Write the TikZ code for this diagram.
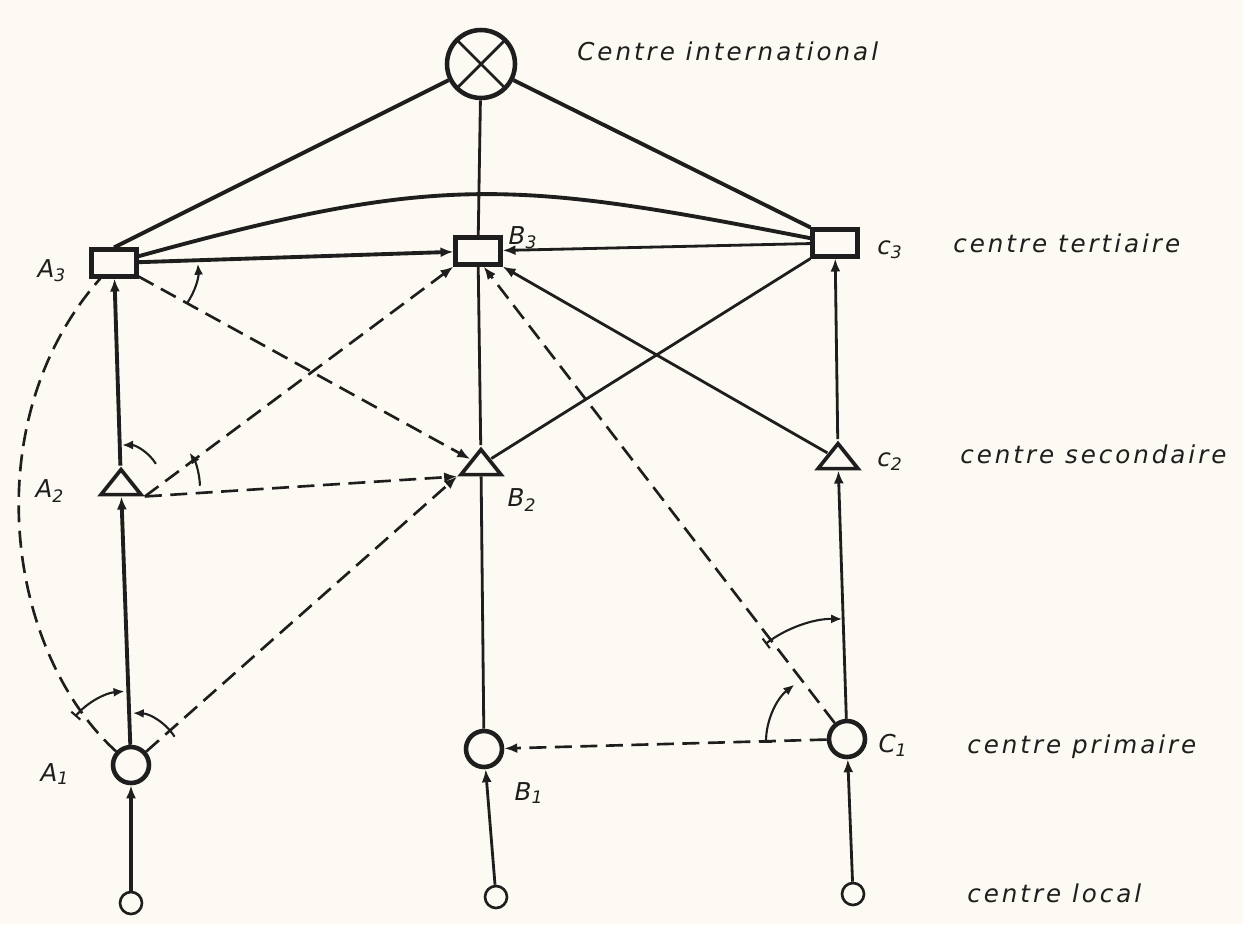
\documentclass[tikz,border=0pt]{standalone}
\usepackage{fontspec}
\usepackage{xcolor}
\usepackage{tikz}
\usetikzlibrary{arrows.meta,positioning,shapes.geometric}
\newfontfamily\hand[LetterSpace=12]{DejaVu Sans}
\definecolor{Ink}{HTML}{1E1E1E}
\definecolor{Paper}{HTML}{FCFAF2}

\begin{document}
\begin{tikzpicture}[
  x=0.02cm, y=-0.02cm,
  lbl/.style={font=\hand\itshape\fontsize{14}{16}\selectfont, text=Ink, inner sep=0pt},
  rectc/.style={draw=Ink, line width=2.3pt, fill=Paper, minimum width=9mm, minimum height=5.4mm, inner sep=0pt},
  tric/.style={draw=Ink, line width=2.1pt, fill=Paper, isosceles triangle, shape border rotate=90, isosceles triangle stretches, minimum width=8mm, minimum height=5mm, inner sep=0pt},
  circc/.style={draw=Ink, line width=2.6pt, fill=Paper, circle, minimum size=7.2mm, inner sep=0pt},
  locc/.style={draw=Ink, line width=1.5pt, fill=Paper, circle, minimum size=4.4mm, inner sep=0pt},
  link/.style={draw=Ink, line width=1.6pt},
  heavy/.style={draw=Ink, line width=2.2pt},
  dashlink/.style={draw=Ink, line width=1.5pt, dash pattern=on 3.4mm off 1.7mm},
  arrow/.style={-{Latex[length=2.6mm, width=2mm]}},
  angmark/.style={draw=Ink, line width=1.2pt, -{Latex[length=2.2mm, width=1.8mm]}},
  barmark/.style={draw=Ink, line width=1.2pt, {Bar[width=2.4mm]}-{Latex[length=2.2mm, width=1.8mm]}}
]
\useasboundingbox (0,0) rectangle (1243,924);
\fill[Paper] (0,0) rectangle (1243,924);

% centres
\node[circc, minimum size=13.6mm, path picture={
  \draw[draw=Ink, line width=1.6pt] (path picture bounding box.north west) -- (path picture bounding box.south east)
    (path picture bounding box.north east) -- (path picture bounding box.south west);}] (intl) at (481,64) {};
\node[rectc] (a3) at (114,263) {};
\node[rectc] (b3) at (478,251) {};
\node[rectc] (c3) at (835,243) {};
\node[tric] (a2) at (121,485) {};
\node[tric] (b2) at (481,465) {};
\node[tric] (c2) at (838,459) {};
\node[circc] (a1) at (131,765) {};
\node[circc] (b1) at (484,749) {};
\node[circc] (c1) at (847,739) {};
\node[locc] (la) at (131,903) {};
\node[locc] (lb) at (496,897) {};
\node[locc] (lc) at (853,894) {};

% labels
\node[lbl] (na3) at (52,271) {A\textsubscript{3}};
\node[lbl] (na2) at (50,491) {A\textsubscript{2}};
\node[lbl] (na1) at (55,774) {A\textsubscript{1}};
\node[lbl] (nb3) at (523,238) {B\textsubscript{3}};
\node[lbl] (nb2) at (522,500) {B\textsubscript{2}};
\node[lbl] (nb1) at (529,793) {B\textsubscript{1}};
\node[lbl] (nc3) at (890,250) {c\textsubscript{3}};
\node[lbl] (nc2) at (890,462) {c\textsubscript{2}};
\node[lbl] (nc1) at (893,745) {C\textsubscript{1}};
\node[lbl, anchor=base west] (tintl) at (577,60) {Centre international};
\node[lbl, anchor=base west] (tter) at (953,252) {centre tertiaire};
\node[lbl, anchor=base west] (tsec) at (960,463) {centre secondaire};
\node[lbl, anchor=base west] (tpri) at (967,753) {centre primaire};
\node[lbl, anchor=base west] (tloc) at (967,902) {centre local};

% vertical chains
\draw[heavy, arrow] (la) -- (a1);
\draw[heavy, arrow] (a1) -- (a2);
\draw[heavy, arrow] (a2) -- (a3);
\draw[link, arrow] (lb) -- (b1);
\draw[link] (b1) -- (b2);
\draw[link] (b2) -- (b3);
\draw[link, arrow] (lc) -- (c1);
\draw[link, arrow] (c1) -- (c2);
\draw[link, arrow] (c2) -- (c3);

% top level
\draw[heavy] (intl) -- (a3.north);
\draw[link] (intl) -- (b3);
\draw[heavy] (intl) -- (c3.north west);
\draw[heavy] (a3) .. controls (440,173) and (512,180) .. (c3);
\draw[heavy, arrow] (a3) -- (b3);
\draw[link, arrow] (c3) -- (b3);

% cross links
\draw[dashlink, arrow] (a3) -- (b2);
\draw[dashlink, arrow] (a2.right corner) -- (b3.south west);
\draw[dashlink, arrow] (a2.right corner) -- (b2.left corner);
\draw[dashlink, arrow] (a1) -- (b2.left corner);
\draw[dashlink] (a1) .. controls (5,650) and (-25,420) .. (a3);
\draw[dashlink, arrow] (c1) -- (b1);
\draw[dashlink, arrow] (c1) -- (b3.-70);
\draw[link, arrow] (c2) -- (b3.south east);
\draw[link] (b2) -- (c3.south west);

% angle marks
\draw[angmark] (136,268) ++(35:62) arc[start angle=35, end angle=-4, radius=62];
\draw[angmark] (122,485) ++(-32:40) arc[start angle=-32, end angle=-90, radius=40];
\draw[angmark] (135,488) ++(-2:65) arc[start angle=-2, end angle=-33, radius=65];
\draw[barmark] (131,765) ++(-139:74) arc[start angle=-139, end angle=-95, radius=74];
\draw[angmark] (131,765) ++(-33:52) arc[start angle=-33, end angle=-88, radius=52];
\draw[barmark] (840,743) ++(180:74) arc[start angle=180, end angle=232, radius=74];
\draw[barmark] (840,743) ++(233:124) arc[start angle=233, end angle=271, radius=124];
\end{tikzpicture}
\end{document}
